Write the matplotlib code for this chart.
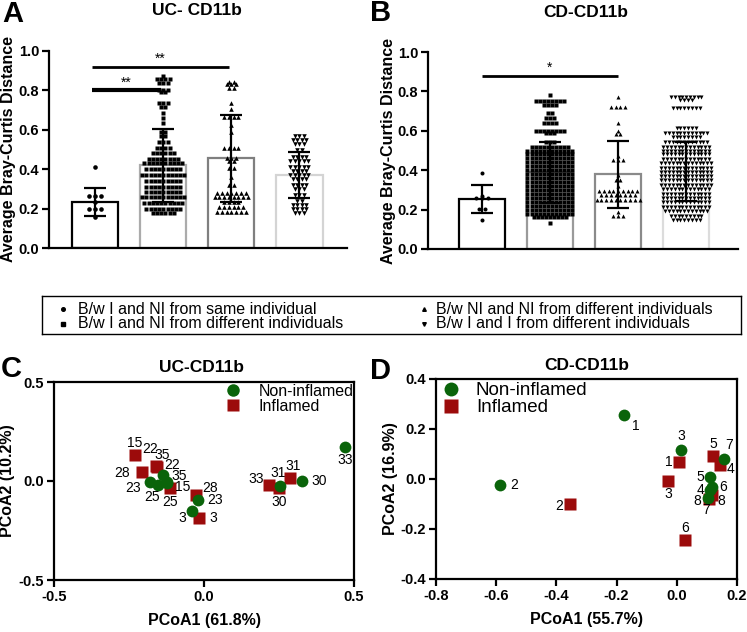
import numpy as np
import matplotlib
matplotlib.use('Agg')
import matplotlib.pyplot as plt
from matplotlib.lines import Line2D

plt.rcParams['font.family'] = ['Liberation Sans', 'DejaVu Sans']

# ---------------- data: bar panels (A = UC, B = CD) ----------------
group_labels = ['B/w I and NI from same individual',
                'B/w I and NI from different individuals',
                'B/w NI and NI from different individuals',
                'B/w I and I from different individuals']

uc_mean = [0.235, 0.42, 0.455, 0.37]
uc_sd = [0.072, 0.185, 0.22, 0.115]
cd_mean = [0.255, 0.39, 0.38, 0.395]
cd_sd = [0.072, 0.155, 0.17, 0.15]

# each swarm given as row values and the number of points in each row
uc_g1_val = [0.41, 0.265, 0.235, 0.20, 0.155]
uc_g1_n = [1, 3, 1, 3, 1]
uc_g2_val = [0.875, 0.86, 0.84, 0.80, 0.79, 0.735, 0.715, 0.685, 0.66, 0.635,
             0.59, 0.57, 0.54, 0.51, 0.48, 0.45, 0.43, 0.40, 0.37, 0.34,
             0.31, 0.285, 0.26, 0.23, 0.20, 0.18]
uc_g2_n = [1, 4, 3, 3, 2, 3, 2, 1, 1, 1, 2, 2, 3, 4, 6, 8, 10, 9, 11, 9,
           9, 9, 11, 10, 9, 6]
uc_g3_val = [0.845, 0.83, 0.81, 0.735, 0.705, 0.665, 0.625, 0.59, 0.51, 0.455,
             0.44, 0.405, 0.36, 0.32, 0.28, 0.26, 0.235, 0.21, 0.185]
uc_g3_n = [2, 3, 2, 1, 1, 4, 1, 1, 4, 3, 2, 2, 1, 2, 7, 8, 4, 6, 7]
uc_g4_val = [0.57, 0.55, 0.53, 0.50, 0.46, 0.44, 0.41, 0.39, 0.37, 0.35,
             0.32, 0.30, 0.27, 0.24, 0.22, 0.20, 0.18]
uc_g4_n = [3, 4, 3, 2, 4, 5, 5, 4, 5, 4, 4, 3, 3, 2, 4, 4, 3]

cd_g1_val = [0.385, 0.27, 0.26, 0.205, 0.145]
cd_g1_n = [1, 1, 3, 2, 1]
cd_g2_val = [0.78, 0.75, 0.73, 0.69, 0.665, 0.64, 0.60, 0.59, 0.545, 0.52,
             0.50, 0.48, 0.46, 0.44, 0.42, 0.40, 0.38, 0.36, 0.34, 0.32,
             0.30, 0.28, 0.26, 0.24, 0.22, 0.20, 0.18, 0.16, 0.13]
cd_g2_n = [1, 8, 4, 2, 3, 4, 8, 3, 3, 10, 12, 12, 12, 12, 12, 12, 12, 12, 12,
           12, 12, 12, 12, 12, 12, 12, 12, 9, 1]
cd_g3_val = [0.77, 0.72, 0.64, 0.60, 0.585, 0.47, 0.45, 0.375, 0.35, 0.32,
             0.295, 0.275, 0.25, 0.19, 0.17]
cd_g3_n = [1, 4, 1, 1, 2, 1, 3, 1, 2, 1, 9, 8, 10, 1, 3]
cd_g4_val = [0.77, 0.755, 0.715, 0.613, 0.59, 0.57, 0.545, 0.52, 0.50, 0.48,
             0.455, 0.435, 0.41, 0.39, 0.37, 0.35, 0.325, 0.305, 0.28, 0.26,
             0.24, 0.215, 0.195, 0.165, 0.145]
cd_g4_n = [9, 4, 8, 6, 12, 8, 12, 13, 13, 13, 13, 14, 14, 14, 14, 14, 14, 13,
           13, 13, 13, 13, 12, 9, 8]

# ---------------- data: PCoA panels (C = UC, D = CD) ----------------
uc_ni_x = [-0.18, -0.153, -0.137, -0.123, -0.125, -0.02, -0.04, 0.253, 0.327, 0.47]
uc_ni_y = [-0.005, -0.02, 0.03, -0.005, -0.01, -0.096, -0.15, -0.025, 0.0, 0.17]
uc_ni_id = ['23', '25', '22', '35', '15', '23', '3', '31', '30', '33']
uc_in_x = [-0.23, -0.207, -0.157, -0.16, -0.113, -0.027, -0.017, 0.217, 0.25, 0.287]
uc_in_y = [0.13, 0.045, 0.07, 0.075, -0.035, -0.07, -0.187, -0.02, -0.035, 0.015]
uc_in_id = ['15', '28', '35', '22', '25', '28', '3', '33', '30', '31']

cd_ni_x = [-0.174, -0.588, 0.014, 0.157, 0.110, 0.117, 0.110, 0.104]
cd_ni_y = [0.256, -0.024, 0.116, 0.080, 0.008, -0.032, -0.044, -0.076]
cd_ni_id = ['1', '2', '3', '7', '5', '6', '4', '8']
cd_in_x = [0.007, -0.354, -0.029, 0.120, 0.143, 0.028, 0.117, 0.107]
cd_in_y = [0.068, -0.101, -0.008, 0.092, 0.056, -0.244, -0.064, -0.08]
cd_in_id = ['1', '2', '3', '5', '4', '6', '8', '7']

# label offsets (points) for the sample numbers
uc_ni_off = [(-12, -4), (-4, -9), (7, 7), (9, 4), (12, -3), (12, 0), (-7, -5),
             (-1, 9), (12, 0), (0, -9)]
uc_in_off = [(0, 9), (-14, -1), (4, 9), (-4, 12), (0, -10), (10, 5), (10, 0),
             (-9, 4), (0, -10), (2, 9)]
cd_ni_off = [(8, -8), (10, 0), (0, 10), (4, 10), (-7, 0), (8, 0), (-7, 0), (-8, -2)]
cd_in_off = [(-7, 0), (-8, -1), (0, -9), (0, 9), (8, -3), (0, 8.5), (7, -4), (-2, -8)]

green = '#0a640a'
red = '#9c0b0b'
markers = ['o', 's', '^', 'v']
W, H = 747, 632


def box(l, t, r, b):
    return [l / W, 1 - b / H, (r - l) / W, (b - t) / H]


def swarm(vals, counts, center, dx):
    xs, ys = [], []
    for v, n in zip(vals, counts):
        offs = (np.arange(n) - (n - 1) / 2) * dx
        xs.extend(center + offs)
        ys.extend([v] * n)
    return xs, ys


def bar_panel(ax, means, sds, groups, edges, dxs, ms, sig, xlim):
    x = np.arange(len(means))
    ax.bar(x, means, width=0.68, facecolor='white', edgecolor=edges,
           linewidth=1.6, zorder=1)
    for i, (vals, counts) in enumerate(groups):
        gx, gy = swarm(vals, counts, i, dxs[i])
        ax.plot(gx, gy, ls='none', marker=markers[i], ms=ms, color='black',
                mec='none', zorder=2)
    ax.errorbar(x, means, yerr=sds, fmt='none', ecolor='black', elinewidth=1.6,
                capsize=8, capthick=1.6, zorder=3)
    for i, j, h, star, lw in sig:
        ax.plot([i - 0.05, j - 0.04], [h, h], color='black', lw=lw,
                solid_capstyle='butt', clip_on=False)
        ax.text((i + j) / 2 - 0.05, h + 0.004, star, ha='center', va='bottom',
                fontsize=10)
    ax.set_xlim(*xlim)
    ax.set_ylim(0, 1.0)
    ticks = [0.0, 0.2, 0.4, 0.6, 0.8, 1.0]
    ax.set_yticks(ticks, labels=[f'{t:.1f}' for t in ticks], fontweight='bold',
                  fontsize=10.5)
    ax.set_xticks([])
    for s in ['top', 'right']:
        ax.spines[s].set_visible(False)
    for s in ['left', 'bottom']:
        ax.spines[s].set_linewidth(1.6)
    ax.tick_params(axis='y', direction='out', length=5, width=1.6, pad=2)
    ax.set_ylabel('Average Bray-Curtis Distance', fontweight='bold', fontsize=11.5)


def pcoa_panel(ax, ni, inf, xlim, ylim, xticks, yticks, xlabel, ylabel, leg):
    for (px, py, ids, offs), col, mk, ms in [(inf, red, 's', 9), (ni, green, 'o', 8.5)]:
        ax.plot(px, py, ls='none', marker=mk, ms=ms, color=col, mec='none')
        for xx, yy, t, o in zip(px, py, ids, offs):
            ax.annotate(t, (xx, yy), xytext=o, textcoords='offset points',
                        ha='center', va='center', fontsize=10)
    ax.set_xlim(*xlim)
    ax.set_ylim(*ylim)
    ax.set_xticks(xticks, labels=[f'{t:.1f}' for t in xticks], fontweight='bold',
                  fontsize=10.5)
    ax.set_yticks(yticks, labels=[f'{t:.1f}' for t in yticks], fontweight='bold',
                  fontsize=10.5)
    for s in ax.spines.values():
        s.set_linewidth(1.6)
    ax.tick_params(direction='out', length=5, width=1.6, pad=2)
    ax.set_xlabel(xlabel, fontweight='bold', fontsize=11.5)
    ax.set_ylabel(ylabel, fontweight='bold', fontsize=11.5)
    anchor, fs, ms, pad, spacing = leg
    handles = [Line2D([], [], ls='none', marker='o', ms=ms, color=green, mec='none'),
               Line2D([], [], ls='none', marker='s', ms=ms, color=red, mec='none')]
    ax.legend(handles, ['Non-inflamed', 'Inflamed'], loc='upper left',
              bbox_to_anchor=anchor, frameon=False, borderpad=0, borderaxespad=0,
              handlelength=1.0, handletextpad=pad, labelspacing=spacing,
              fontsize=fs)


fig = plt.figure(figsize=(7.47, 6.32), dpi=100)

axA = fig.add_axes(box(49, 51, 347, 248))
bar_panel(axA, uc_mean, uc_sd,
          [(uc_g1_val, uc_g1_n), (uc_g2_val, uc_g2_n), (uc_g3_val, uc_g3_n),
           (uc_g4_val, uc_g4_n)],
          ['black', '#ababab', '#7f7f7f', '#d4d4d4'], [0.085, 0.062, 0.07, 0.066],
          3.3, [(0, 1, 0.80, '**', 3.0), (0, 2, 0.92, '**', 2.0)], (-0.68, 3.70))
axA.yaxis.set_label_coords(-0.112, 0.5)

axB = fig.add_axes(box(428, 52, 738, 249))
bar_panel(axB, cd_mean, cd_sd,
          [(cd_g1_val, cd_g1_n), (cd_g2_val, cd_g2_n), (cd_g3_val, cd_g3_n),
           (cd_g4_val, cd_g4_n)],
          ['black', '#9a9a9a', '#8a8a8a', '#dcdcdc'], [0.085, 0.06, 0.07, 0.056],
          2.9, [(0.05, 2.04, 0.88, '*', 2.0)], (-0.79, 3.76))
axB.yaxis.set_label_coords(-0.104, 0.5)

# legend box between the rows
lax = fig.add_axes(box(42, 296, 741, 334))
lax.set_xlim(42, 741)
lax.set_ylim(334, 296)
lax.set_xticks([])
lax.set_yticks([])
for s in lax.spines.values():
    s.set_linewidth(1.0)
for k, (lx, ly) in enumerate([(63, 309), (63, 324), (424, 309), (424, 324)]):
    lax.plot(lx, ly, marker=markers[k], ms=2.6, color='black', ls='none')
    lax.text(lx + 15 if k < 2 else lx + 12, ly, group_labels[k], va='center',
             ha='left', fontsize=11.5)

axC = fig.add_axes(box(54, 382, 354, 580))
pcoa_panel(axC, (uc_ni_x, uc_ni_y, uc_ni_id, uc_ni_off),
           (uc_in_x, uc_in_y, uc_in_id, uc_in_off),
           (-0.5, 0.5), (-0.5, 0.5), [-0.5, 0.0, 0.5], [-0.5, 0.0, 0.5],
           'PCoA1 (61.8%)', 'PCoA2 (10.2%)',
           (((225 - 54) / 300, 0.99), 11.5, 9, 1.1, 0.0))
axC.yaxis.set_label_coords(-0.13, 0.5)
axC.xaxis.set_label_coords(0.5, -0.165)

axD = fig.add_axes(box(436, 379, 737, 579))
pcoa_panel(axD, (cd_ni_x, cd_ni_y, cd_ni_id, cd_ni_off),
           (cd_in_x, cd_in_y, cd_in_id, cd_in_off),
           (-0.8, 0.2), (-0.4, 0.4), [-0.8, -0.6, -0.4, -0.2, 0.0, 0.2],
           [-0.4, -0.2, 0.0, 0.2, 0.4],
           'PCoA1 (55.7%)', 'PCoA2 (16.9%)',
           (((442 - 436) / 301, 0.985), 13.5, 10, 0.8, 0.0))
axD.yaxis.set_label_coords(-0.126, 0.5)
axD.xaxis.set_label_coords(0.5, -0.163)

# titles and panel letters
for txt, px, py in [('UC- CD11b', 197, 15), ('CD-CD11b', 586, 17),
                    ('UC-CD11b', 202, 372), ('CD-CD11b', 587, 370)]:
    fig.text(px / W, 1 - py / H, txt, ha='center', va='baseline',
             fontsize=12.5, fontweight='bold')
for txt, px, py in [('A', 2, 22), ('B', 370, 21), ('C', 1, 377), ('D', 370, 379)]:
    fig.text(px / W, 1 - py / H, txt, ha='left', va='baseline',
             fontsize=21, fontweight='bold')

fig.savefig('out.png', dpi=100)
